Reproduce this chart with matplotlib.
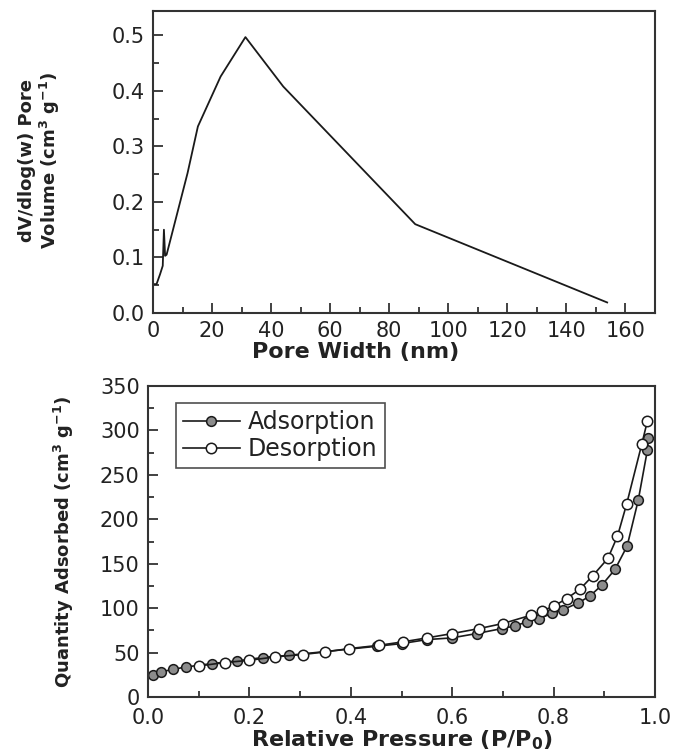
import numpy as np
import matplotlib
matplotlib.use("Agg")
from matplotlib import pyplot as plt
from matplotlib.ticker import MultipleLocator, FormatStrFormatter

# pore size distribution (top panel)
pore_width = [0.4, 1.2, 2.4, 3.3, 3.7, 4.1, 4.6, 11.7, 15.2, 22.9, 31.3, 44.1, 88.8, 153.8]
pore_vol = [0.052, 0.052, 0.070, 0.085, 0.150, 0.103, 0.105, 0.252, 0.336, 0.426, 0.497, 0.408, 0.160, 0.019]

# N2 isotherm (bottom panel)
p_ads = [0.009, 0.025, 0.050, 0.075, 0.126, 0.175, 0.226, 0.279, 0.451, 0.500, 0.550, 0.599,
         0.648, 0.698, 0.724, 0.747, 0.772, 0.796, 0.819, 0.849, 0.872, 0.895, 0.921, 0.945,
         0.967, 0.985, 0.987]
q_ads = [24.4, 28.2, 31.2, 33.8, 37.6, 40.6, 44.4, 47.0, 57.1, 60.1, 64.6, 66.5,
         71.4, 77.0, 80.0, 84.5, 88.3, 94.0, 98.4, 106.0, 113.8, 125.8, 143.5, 169.8,
         221.6, 277.9, 292.0]
p_des = [0.985, 0.974, 0.944, 0.926, 0.907, 0.877, 0.852, 0.826, 0.801, 0.778, 0.755, 0.700,
         0.653, 0.600, 0.550, 0.502, 0.456, 0.397, 0.349, 0.305, 0.250, 0.200, 0.152, 0.101]
q_des = [310.6, 284.7, 217.0, 181.0, 155.9, 136.3, 121.3, 110.8, 102.5, 96.9, 92.0, 82.7,
         77.0, 71.4, 66.5, 62.0, 58.2, 54.5, 50.7, 47.8, 45.1, 41.3, 38.8, 35.0]

plt.rcParams['font.family'] = ['DejaVu Sans']
plt.rcParams['mathtext.default'] = 'regular'
tc = '#222222'

fig = plt.figure(figsize=(6.76, 7.52), dpi=100)
W, H = 676.0, 752.0


def axes_px(left, right, top, bottom):
    return fig.add_axes([left / W, 1 - bottom / H, (right - left) / W, (bottom - top) / H])


def style(ax):
    for s in ax.spines.values():
        s.set_linewidth(1.5)
        s.set_color('#333333')
    ax.tick_params(which='both', direction='in', top=False, right=False,
                   labelsize=15, labelcolor=tc, color='#333333', width=1.3, pad=6)
    ax.tick_params(which='major', length=7)
    ax.tick_params(which='minor', length=4)


# top panel
ax1 = axes_px(153, 655, 11, 313)
ax1.plot(pore_width, pore_vol, color='#1a1a1a', lw=1.3)
ax1.set_xlim(0, 170)
ax1.set_ylim(0, 0.544)
ax1.xaxis.set_major_locator(MultipleLocator(20))
ax1.xaxis.set_minor_locator(MultipleLocator(10))
ax1.yaxis.set_major_locator(MultipleLocator(0.1))
ax1.yaxis.set_minor_locator(MultipleLocator(0.05))
ax1.yaxis.set_major_formatter(FormatStrFormatter('%.1f'))
style(ax1)
ax1.set_xticks([0, 20, 40, 60, 80, 100, 120, 140, 160])
fig.text(356 / W, 1 - 352 / H, 'Pore Width (nm)', ha='center', va='center',
         fontsize=16, fontweight='bold', color=tc)
fig.text(40 / W, 1 - 160 / H, 'dV/dlog(w) Pore\nVolume (cm$^3$ g$^{-1}$)', ha='center', va='center',
         rotation=90, fontsize=13, fontweight='bold', color=tc, linespacing=1.1)

# bottom panel
ax2 = axes_px(148, 655, 386, 697)
ax2.plot(p_ads, q_ads, color='#1a1a1a', lw=1.2, marker='o', ms=7,
         mfc='#8c8c8c', mec='#1a1a1a', mew=1.1, label='Adsorption')
ax2.plot(p_des, q_des, color='#1a1a1a', lw=1.2, marker='o', ms=7.5,
         mfc='white', mec='#1a1a1a', mew=1.1, label='Desorption')
ax2.set_xlim(0, 1.0)
ax2.set_ylim(0, 350)
ax2.xaxis.set_major_locator(MultipleLocator(0.2))
ax2.xaxis.set_minor_locator(MultipleLocator(0.1))
ax2.xaxis.set_major_formatter(FormatStrFormatter('%.1f'))
ax2.yaxis.set_major_locator(MultipleLocator(50))
ax2.yaxis.set_minor_locator(MultipleLocator(25))
style(ax2)
ax2.tick_params(axis='x', pad=8)
fig.text(402 / W, 1 - 740 / H, 'Relative Pressure (P/P$_0$)', ha='center', va='center',
         fontsize=16, fontweight='bold', color=tc)
fig.text(64 / W, 1 - 542 / H, 'Quantity Adsorbed (cm$^3$ g$^{-1}$)', ha='center', va='center',
         rotation=90, fontsize=13, fontweight='bold', color=tc)

leg = ax2.legend(loc='upper left', bbox_to_anchor=(0.055, 0.944), borderaxespad=0,
                 fontsize=17, frameon=True, fancybox=False, edgecolor='#222222',
                 handlelength=2.4, handletextpad=0.35, labelspacing=0.12, borderpad=0.3)
leg.get_frame().set_linewidth(1.2)
for t in leg.get_texts():
    t.set_color(tc)

fig.savefig('out.png', dpi=100)
